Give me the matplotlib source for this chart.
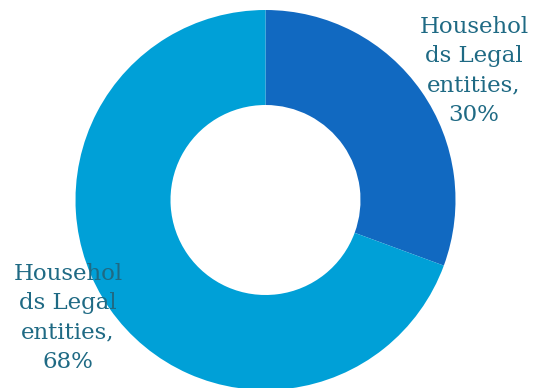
import matplotlib
matplotlib.use("Agg")
import matplotlib.pyplot as plt

categories = ["Households Legal entities", "Households Legal entities"]
values = [30, 68]
labels = ["Househol\nds Legal\nentities,\n30%", "Househol\nds Legal\nentities,\n68%"]
colors = ["#1169C1", "#00A0D7"]

W, H = 533, 388
fig = plt.figure(figsize=(W / 100, H / 100), dpi=100)
ax = fig.add_axes([0, 0, 1, 1])
cx, cy, R = 265.5, 200, 190
ax.pie(values, colors=colors, startangle=90, counterclock=False,
       radius=1, wedgeprops=dict(width=0.5, linewidth=0))
ax.set_xlim(-cx / R, (W - cx) / R)
ax.set_ylim(-(H - cy) / R, cy / R)
ax.set_aspect("equal")
ax.axis("off")

txtcolor = "#1F6A84"
ax.text((474 - cx) / R, (cy - 71) / R, labels[0], ha="center", va="center",
        fontsize=16.5, family="DejaVu Serif", color=txtcolor, linespacing=1.42)
ax.text((68 - cx) / R, (cy - 318) / R, labels[1], ha="center", va="center",
        fontsize=16.5, family="DejaVu Serif", color=txtcolor, linespacing=1.42)

fig.savefig("out.png", dpi=100)
